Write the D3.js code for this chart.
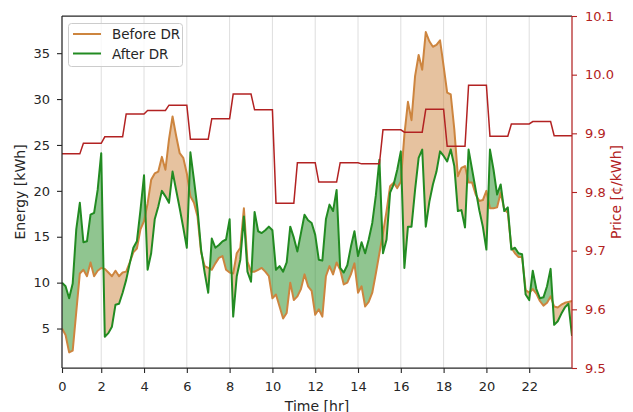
<!DOCTYPE html>
<html><head><meta charset="utf-8">
<script src="https://cdn.jsdelivr.net/npm/d3@7"></script>
<style>
html,body{margin:0;padding:0;background:#fff;}
svg{display:block;font-family:"DejaVu Sans",sans-serif;}
</style></head>
<body><svg id="chart" width="633" height="412"></svg>
<script>
// ---- data (10-minute samples, 6 per hour) ----
const samplesPerHour = 6;
const beforeDR = [
 5.0,4.3,2.4,2.6,6.8,11.0, 11.4,10.7,12.2,10.7,11.3,11.6,
 11.5,11.1,10.7,11.3,10.7,11.1, 11.2,12.2,13.3,13.7,15.8,16.7,
 18.6,21.2,21.9,22.1,23.7,22.3, 25.6,28.1,26.0,24.1,23.6,21.9,
 19.4,18.7,17.2,13.3,11.8,11.6, 11.4,12.1,12.7,12.9,11.4,11.1,
 11.0,13.2,13.8,18.1,12.3,11.2, 11.2,11.4,11.6,11.2,10.7,8.3,
 8.7,7.4,6.1,6.7,10.0,8.1, 8.5,9.3,10.9,9.6,9.1,6.5,
 7.1,6.3,10.7,11.8,10.9,12.2, 11.4,9.8,10.0,10.9,12.1,8.9,
 9.6,7.4,7.9,8.9,11.0,13.2, 15.4,17.8,20.5,20.9,20.3,21.0,
 26.1,29.7,27.7,32.5,34.8,33.2, 37.3,36.3,35.7,35.9,36.4,33.6,
 30.7,30.5,26.7,21.6,22.5,22.7, 20.9,20.9,19.6,18.9,19.0,20.0,
 18.1,18.1,18.2,19.8,18.0,17.6, 13.8,13.2,12.8,12.8,9.2,8.9,
 9.3,8.8,8.0,7.5,7.8,8.5, 7.4,7.3,7.6,7.8,7.9,8.0
];
const afterDR = [
 10.0,9.6,8.3,9.9,15.8,18.7, 14.4,14.5,17.4,17.6,20.1,24.1,
 4.1,4.5,5.2,7.6,7.7,8.9, 10.3,12.1,13.8,14.5,17.9,21.7,
 11.4,13.2,16.9,18.3,20.0,19.4, 18.7,22.1,20.1,18.1,16.0,13.8,
 24.2,21.2,18.0,13.6,11.1,8.9, 14.8,13.8,14.1,14.5,14.7,16.9,
 6.3,10.7,12.5,17.2,11.2,10.1, 17.7,15.6,15.4,15.7,16.1,15.7,
 11.4,11.8,11.2,12.2,16.1,14.9, 13.4,15.4,17.4,16.8,16.5,15.2,
 12.5,12.4,16.9,18.5,17.8,20.1, 11.6,11.1,11.9,13.9,15.6,12.9,
 14.4,13.2,14.7,16.5,19.5,23.4, 13.2,14.7,19.8,20.7,22.3,24.3,
 11.6,16.1,16.1,20.1,23.6,24.5, 16.1,18.8,20.7,22.1,24.3,23.8,
 23.2,24.5,22.7,17.8,17.9,16.0, 24.5,22.3,20.1,17.9,16.1,13.6,
 24.5,22.3,19.6,20.7,17.8,18.2, 13.6,13.8,13.2,13.1,8.7,8.1,
 11.3,9.3,8.3,8.4,9.6,11.5, 5.4,5.8,6.6,7.3,7.7,4.2
];
// hourly price, ¢/kWh
const priceHourly = [9.865,9.883,9.894,9.933,9.939,9.948,9.890,9.925,9.967,9.940,9.781,9.850,
                     9.817,9.850,9.848,9.906,9.902,9.941,9.878,9.982,9.895,9.916,9.920,9.896];
const xTickValues = [0,2,4,6,8,10,12,14,16,18,20,22];
const xTickLabels = ["0","2","4","6","8","10","12","14","16","18","20","22"];
const yTicks = [5,10,15,20,25,30,35];
const priceTicks = [9.5,9.6,9.7,9.8,9.9,10.0,10.1];
const seriesNames = ["Before DR","After DR"];

// sample times: first sample at 0:10, last at 24:00
const times = beforeDR.map((d,i)=>(i+1)/samplesPerHour);
const priceSeries = times.map((t,i)=>priceHourly[Math.floor(i/samplesPerHour)]);

const W=633,H=412;
const L=62,R=572,T=16,B=368;
const svg=d3.select("#chart");
const x=d3.scaleLinear().domain([times[0],24]).range([L,R]);
const y=d3.scaleLinear().domain([0.7,39.05]).range([B,T]);
const yp=d3.scaleLinear().domain([9.5,10.1]).range([B,T]);

const orange="#cd853f", green="#228b22", red="#b22222", ink="#262626";
const tickPos = v => v===0 ? times[0] : v;

// gridlines
svg.append("g").selectAll("line").data(xTickValues.slice(1)).join("line")
  .attr("x1",d=>x(d)).attr("x2",d=>x(d)).attr("y1",T).attr("y2",B)
  .attr("stroke","#dedede").attr("stroke-width",1);

const data=times.map((t,i)=>({t,b:beforeDR[i],a:afterDR[i]}));
const defs=svg.append("defs");
// clip regions
defs.append("clipPath").attr("id","belowBefore").append("path")
  .attr("d",d3.area().x(d=>x(d.t)).y0(B+50).y1(d=>y(d.b))(data));
defs.append("clipPath").attr("id","belowAfter").append("path")
  .attr("d",d3.area().x(d=>x(d.t)).y0(B+50).y1(d=>y(d.a))(data));
defs.append("clipPath").attr("id","plot").append("rect")
  .attr("x",L).attr("y",T).attr("width",R-L).attr("height",B-T);

const gp=svg.append("g").attr("clip-path","url(#plot)");
// before > after : orange fill
gp.append("g").attr("clip-path","url(#belowBefore)").append("path")
  .attr("d",d3.area().x(d=>x(d.t)).y0(T-50).y1(d=>y(d.a))(data))
  .attr("fill",orange).attr("fill-opacity",0.5);
// after > before : green fill
gp.append("g").attr("clip-path","url(#belowAfter)").append("path")
  .attr("d",d3.area().x(d=>x(d.t)).y0(T-50).y1(d=>y(d.b))(data))
  .attr("fill",green).attr("fill-opacity",0.5);

gp.append("path").attr("d",d3.line().x(d=>x(d.t)).y(d=>y(d.b))(data))
  .attr("fill","none").attr("stroke",orange).attr("stroke-width",2).attr("stroke-linejoin","round");
gp.append("path").attr("d",d3.line().x(d=>x(d.t)).y(d=>y(d.a))(data))
  .attr("fill","none").attr("stroke",green).attr("stroke-width",2).attr("stroke-linejoin","round");
gp.append("path").attr("d",d3.line().x((d,i)=>x(times[i])).y(d=>yp(d))(priceSeries))
  .attr("fill","none").attr("stroke",red).attr("stroke-width",1.5);

// axes
const fs=13;
const gx=svg.append("g").attr("transform",`translate(0,${B})`)
  .call(d3.axisBottom(x).tickValues(xTickValues.map(tickPos)).tickFormat((d,i)=>xTickLabels[i])
    .tickSize(5).tickPadding(8.5).tickSizeOuter(0));
const gy=svg.append("g").attr("transform",`translate(${L},0)`)
  .call(d3.axisLeft(y).tickValues(yTicks).tickSize(5).tickPadding(7).tickSizeOuter(0));
const gr=svg.append("g").attr("transform",`translate(${R},0)`)
  .call(d3.axisRight(yp).tickValues(priceTicks).tickFormat(d3.format(".1f")).tickSize(5).tickPadding(8).tickSizeOuter(0));
[gx,gy].forEach(g=>{
  g.select(".domain").remove();
  g.selectAll("line").attr("stroke",ink).attr("stroke-width",1.1);
  g.selectAll("text").attr("fill",ink).attr("font-size",fs).attr("font-family","DejaVu Sans");
});
gr.select(".domain").remove();
gr.selectAll("line").attr("stroke",red).attr("stroke-width",1.1);
gr.selectAll("text").attr("fill",red).attr("font-size",fs).attr("font-family","DejaVu Sans");

// spines
svg.append("line").attr("x1",L).attr("x2",L).attr("y1",T).attr("y2",B).attr("stroke",ink).attr("stroke-width",1.25);
svg.append("line").attr("x1",L).attr("x2",R).attr("y1",B).attr("y2",B).attr("stroke",ink).attr("stroke-width",1.25);
svg.append("line").attr("x1",L).attr("x2",R).attr("y1",T).attr("y2",T).attr("stroke",ink).attr("stroke-width",1.25);
svg.append("line").attr("x1",R).attr("x2",R).attr("y1",T).attr("y2",B).attr("stroke",red).attr("stroke-width",1.25);

// axis labels
svg.append("text").attr("transform",`translate(24.5,${(T+B)/2}) rotate(-90)`).attr("text-anchor","middle")
  .attr("font-size",14).attr("fill",ink).text("Energy [kWh]");
svg.append("text").attr("transform",`translate(621,${(T+B)/2}) rotate(-90)`).attr("text-anchor","middle")
  .attr("font-size",14).attr("fill",red).text("Price [¢/kWh]");
svg.append("text").attr("x",(L+R)/2).attr("y",410.5).attr("text-anchor","middle")
  .attr("font-size",14).attr("fill",ink).text("Time [hr]");

// legend
const lg=svg.append("g");
lg.append("rect").attr("x",68.5).attr("y",23.5).attr("width",114).attr("height",43).attr("rx",3)
  .attr("fill","#fff").attr("fill-opacity",0.8).attr("stroke","#cccccc").attr("stroke-width",1);
[orange,green].forEach((c,k)=>{
  const yy=34+k*19.5;
  lg.append("line").attr("x1",73).attr("x2",101).attr("y1",yy).attr("y2",yy).attr("stroke",c).attr("stroke-width",2);
  lg.append("text").attr("x",112).attr("y",yy+5).attr("font-size",13.5).attr("fill",ink).text(seriesNames[k]);
});
</script></body></html>
